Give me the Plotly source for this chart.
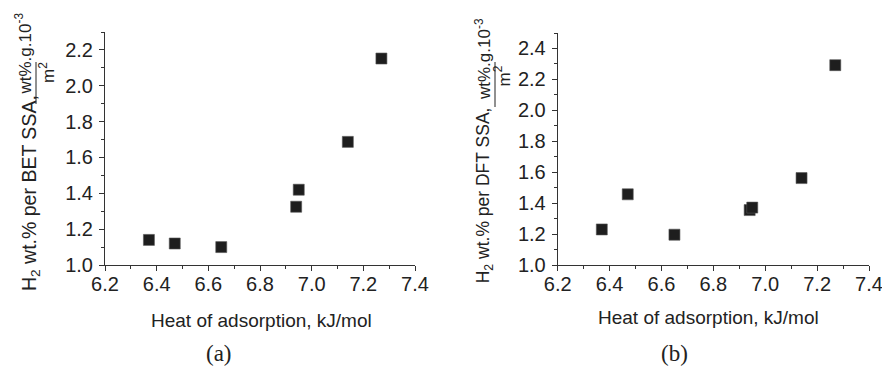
import plotly.graph_objects as go

# ---- data ----
heat_a = [6.37, 6.47, 6.65, 6.94, 6.95, 7.14, 7.27]
bet_ssa = [1.14, 1.12, 1.10, 1.325, 1.42, 1.687, 2.152]

heat_b = [6.37, 6.47, 6.65, 6.94, 6.95, 7.14, 7.27]
dft_ssa = [1.23, 1.457, 1.196, 1.355, 1.371, 1.562, 2.292]

x_ticks = [6.2, 6.4, 6.6, 6.8, 7.0, 7.2, 7.4]
ya_ticks = [1.0, 1.2, 1.4, 1.6, 1.8, 2.0, 2.2]
yb_ticks = [1.0, 1.2, 1.4, 1.6, 1.8, 2.0, 2.2, 2.4]

W, H = 882, 373
def px(x): return x / W
def py(y): return 1 - y / H

SANS = "Arial, Liberation Sans, sans-serif"
SERIF = "Times New Roman, Liberation Serif, serif"
INK = "#1e1e1e"
AX = "#333333"

fig = go.Figure()
marker = dict(symbol="square", size=11, color=INK, line=dict(width=0.6, color="#555"))
fig.add_trace(go.Scatter(x=heat_a, y=bet_ssa, mode="markers", marker=marker,
                         xaxis="x", yaxis="y", showlegend=False))
fig.add_trace(go.Scatter(x=heat_b, y=dft_ssa, mode="markers", marker=marker,
                         xaxis="x2", yaxis="y2", showlegend=False))

def xax(domain, anchor):
    return dict(domain=domain, anchor=anchor, range=[6.2, 7.4], tickvals=x_ticks,
                ticktext=[f"{v:.1f}" for v in x_ticks],
                showline=True, linecolor=AX, linewidth=1, mirror=False,
                ticks="outside", ticklen=5, tickwidth=1, tickcolor=AX,
                minor=dict(ticks="outside", ticklen=3, tickwidth=1, tickcolor=AX,
                           dtick=0.1, tick0=6.2, showgrid=False),
                showgrid=False, zeroline=False,
                tickfont=dict(family=SANS, size=20, color="#222"),
                ticklabelstandoff=-4, ticklabeloverflow="allow",
                automargin=False, fixedrange=True)

def yax(domain, anchor, rng, ticks):
    return dict(domain=domain, anchor=anchor, range=rng, tickvals=ticks,
                ticktext=[f"{v:.1f}" for v in ticks],
                showline=True, linecolor=AX, linewidth=1, mirror=False,
                ticks="outside", ticklen=5, tickwidth=1, tickcolor=AX,
                minor=dict(ticks="outside", ticklen=3, tickwidth=1, tickcolor=AX,
                           dtick=0.1, tick0=1.0, showgrid=False),
                showgrid=False, zeroline=False,
                tickfont=dict(family=SANS, size=20, color="#222"),
                ticklabelstandoff=2, ticklabeloverflow="allow",
                automargin=False, fixedrange=True)

fig.update_layout(
    width=W, height=H,
    margin=dict(l=0, r=0, t=0, b=0, pad=0),
    paper_bgcolor="white", plot_bgcolor="white",
    xaxis=xax([px(105), px(415)], "y"),
    yaxis=yax([py(265), py(32)], "x", [1.0, 2.3], ya_ticks),
    xaxis2=xax([px(557.7), px(869)], "y2"),
    yaxis2=yax([py(265), py(33)], "x2", [1.0, 2.5], yb_ticks),
)

ann = []
def text(x, y, s, size, angle=0, family=SANS):
    ann.append(dict(x=px(x), y=py(y), xref="paper", yref="paper", text=s,
                    showarrow=False, textangle=angle, xanchor="center", yanchor="middle",
                    font=dict(family=family, size=size, color="#222")))

# panel (a) y-title
text(30, 193, "H<sub>2</sub> wt.% per BET SSA,", 19.5, -90)
text(23.5, 54, "wt%.g.10<sup>-3</sup>", 17, -90)
text(46.5, 72.5, "m<sup>2</sup>", 17, -90)
# panel (b) y-title
text(484.3, 195, "H<sub>2</sub> wt.% per DFT SSA,", 17.5, -90)
text(483, 59, "wt%.g.10<sup>-3</sup>", 17, -90)
text(502, 76.5, "m<sup>2</sup>", 17, -90)

# x titles
text(261, 320, "Heat of adsorption, kJ/mol", 19)
text(708, 317, "Heat of adsorption, kJ/mol", 19)
# panel labels
text(219, 353, "(a)", 23, family=SERIF)
text(674, 353, "(b)", 23, family=SERIF)

fig.update_layout(annotations=ann)

# fraction bars
fig.add_shape(type="line", xref="paper", yref="paper",
              x0=px(36), x1=px(36), y0=py(62), y1=py(104),
              line=dict(color="#222", width=1))
fig.add_shape(type="line", xref="paper", yref="paper",
              x0=px(495), x1=px(495), y0=py(62), y1=py(107),
              line=dict(color="#222", width=1))

fig.write_html("out.html", config={"displayModeBar": False, "staticPlot": True},
               post_script="document.body.style.margin='0';document.body.style.overflow='hidden';")
